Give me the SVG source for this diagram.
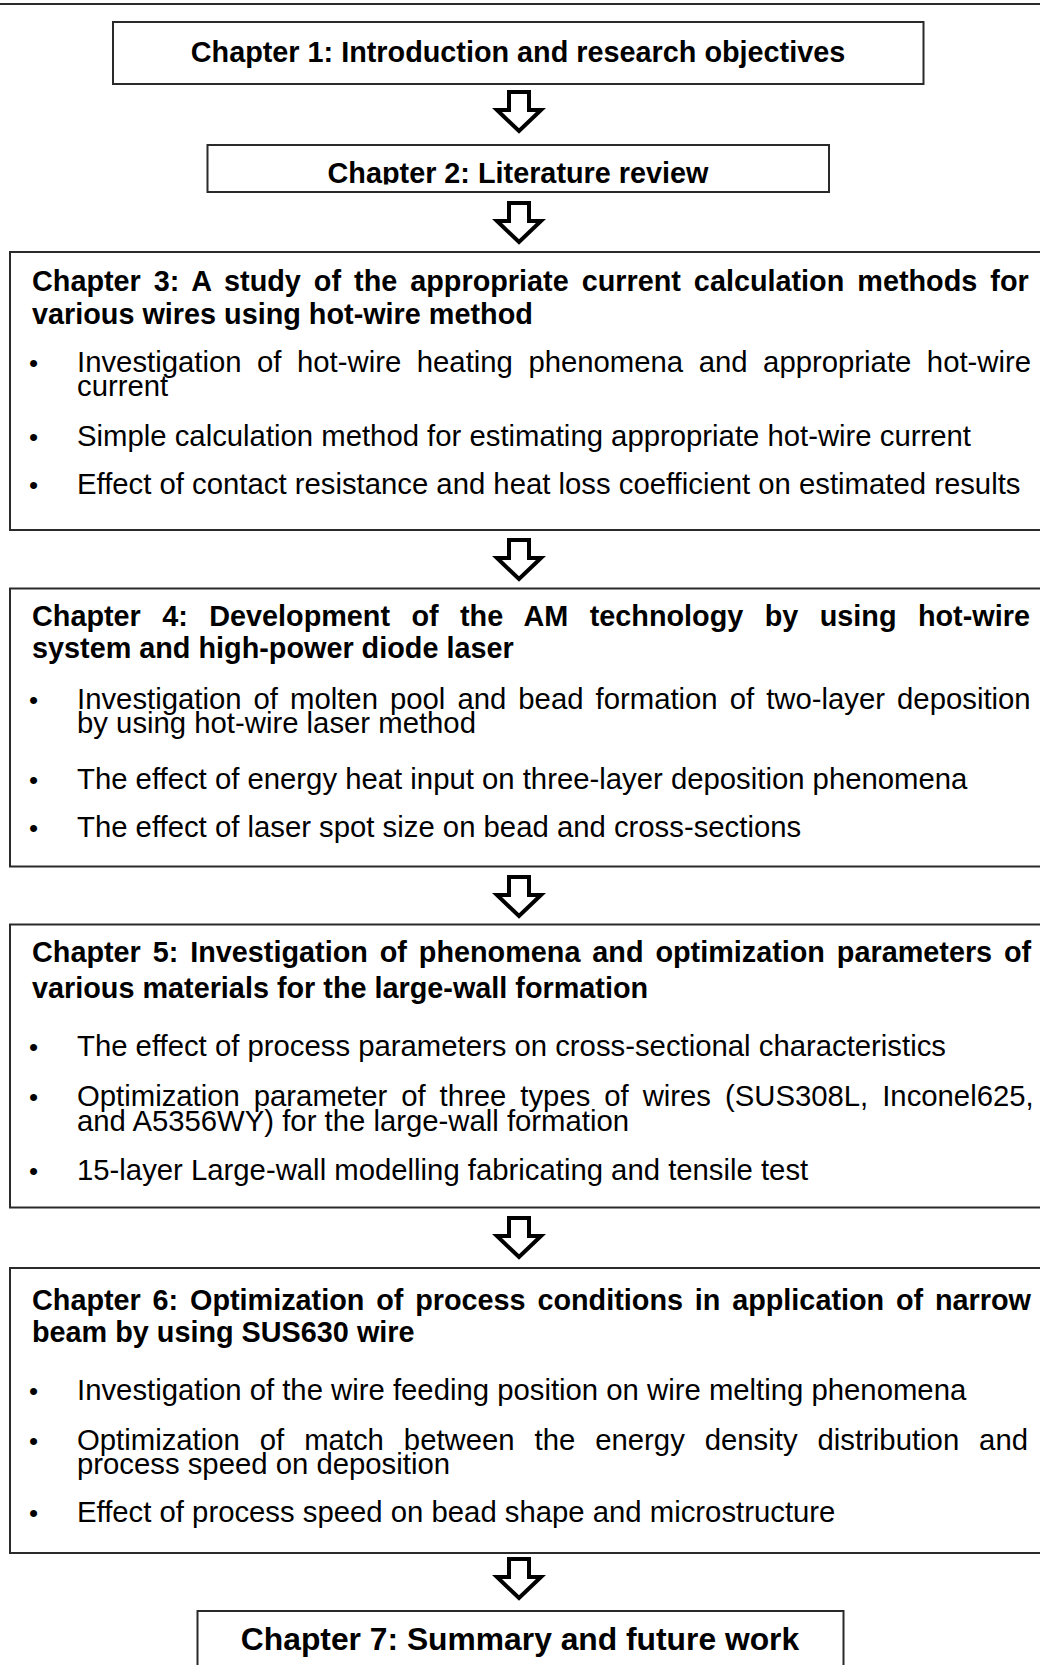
<svg xmlns="http://www.w3.org/2000/svg" width="1040" height="1665" viewBox="0 0 1040 1665">
<style>
.box{fill:#fff;stroke:#2a2a2a;stroke-width:2}
.t{font-family:"Liberation Sans",Arial,sans-serif;font-weight:bold;font-size:28.8px;fill:#000}
.b{font-family:"Liberation Sans",Arial,sans-serif;font-size:29.3px;fill:#000}
.dot{font-family:"Liberation Sans",Arial,sans-serif;font-size:26px;fill:#000}
.arrow{fill:#fff;stroke:#000;stroke-width:4;stroke-linejoin:miter}
</style>
<defs>
<path id="blockArrow" d="M-10,0 H10 V18 H22 L0,39 L-22,18 H-10 Z"/>
<clipPath id="clip2"><rect x="207" y="145" width="622" height="39.5"/></clipPath>
</defs>
<line x1="0" y1="4" x2="1040" y2="4" stroke="#2a2a2a" stroke-width="2"/>
<g id="connectors">
<use href="#blockArrow" class="arrow" transform="translate(519,92)"/>
<use href="#blockArrow" class="arrow" transform="translate(519,203)"/>
<use href="#blockArrow" class="arrow" transform="translate(519,540)"/>
<use href="#blockArrow" class="arrow" transform="translate(519,877)"/>
<use href="#blockArrow" class="arrow" transform="translate(519,1218)"/>
<use href="#blockArrow" class="arrow" transform="translate(519,1559)"/>
</g>
<g id="chapter1">
<rect class="box" x="113" y="22" width="810.5" height="62"/>
<text class="t" x="518" y="61.5" text-anchor="middle">Chapter 1: Introduction and research objectives</text>
</g>
<g id="chapter2">
<rect class="box" x="207.5" y="145" width="621.5" height="47"/>
<text class="t" x="518" y="183" text-anchor="middle" clip-path="url(#clip2)">Chapter 2: Literature review</text>
</g>
<g id="chapter3">
<rect class="box" x="10" y="252" width="1045" height="278"/>
<text class="t" x="32" y="291" word-spacing="5">Chapter 3: A study of the appropriate current calculation methods for</text>
<text class="t" x="32" y="323.5">various wires using hot-wire method</text>
<text class="dot" x="29" y="372">•</text>
<text class="b" x="77" y="372" word-spacing="7.4">Investigation of hot-wire heating phenomena and appropriate hot-wire</text>
<text class="b" x="77" y="396">current</text>
<text class="dot" x="29" y="446">•</text>
<text class="b" x="77" y="446">Simple calculation method for estimating appropriate hot-wire current</text>
<text class="dot" x="29" y="494">•</text>
<text class="b" x="77" y="494">Effect of contact resistance and heat loss coefficient on estimated results</text>
</g>
<g id="chapter4">
<rect class="box" x="10" y="588.5" width="1045" height="278"/>
<text class="t" x="32" y="626" word-spacing="13.4">Chapter 4: Development of the AM technology by using hot-wire</text>
<text class="t" x="32" y="658">system and high-power diode laser</text>
<text class="dot" x="29" y="709">•</text>
<text class="b" x="77" y="709" word-spacing="3.9">Investigation of molten pool and bead formation of two-layer deposition</text>
<text class="b" x="77" y="733">by using hot-wire laser method</text>
<text class="dot" x="29" y="788.5">•</text>
<text class="b" x="77" y="788.5">The effect of energy heat input on three-layer deposition phenomena</text>
<text class="dot" x="29" y="836.5">•</text>
<text class="b" x="77" y="836.5">The effect of laser spot size on bead and cross-sections</text>
</g>
<g id="chapter5">
<rect class="box" x="10" y="924.5" width="1045" height="283"/>
<text class="t" x="32" y="962" word-spacing="3.9">Chapter 5: Investigation of phenomena and optimization parameters of</text>
<text class="t" x="32" y="998">various materials for the large-wall formation</text>
<text class="dot" x="29" y="1056">•</text>
<text class="b" x="77" y="1056">The effect of process parameters on cross-sectional characteristics</text>
<text class="dot" x="29" y="1106">•</text>
<text class="b" x="77" y="1106" word-spacing="5.8">Optimization parameter of three types of wires (SUS308L, Inconel625,</text>
<text class="b" x="77" y="1130.5">and A5356WY) for the large-wall formation</text>
<text class="dot" x="29" y="1179.5">•</text>
<text class="b" x="77" y="1179.5">15-layer Large-wall modelling fabricating and tensile test</text>
</g>
<g id="chapter6">
<rect class="box" x="10" y="1268" width="1045" height="285"/>
<text class="t" x="32" y="1309.5" word-spacing="3.8">Chapter 6: Optimization of process conditions in application of narrow</text>
<text class="t" x="32" y="1341.5">beam by using SUS630 wire</text>
<text class="dot" x="29" y="1399.5">•</text>
<text class="b" x="77" y="1399.5">Investigation of the wire feeding position on wire melting phenomena</text>
<text class="dot" x="29" y="1449.5">•</text>
<text class="b" x="77" y="1449.5" word-spacing="11.8">Optimization of match between the energy density distribution and</text>
<text class="b" x="77" y="1474">process speed on deposition</text>
<text class="dot" x="29" y="1521.5">•</text>
<text class="b" x="77" y="1521.5">Effect of process speed on bead shape and microstructure</text>
</g>
<g id="chapter7">
<rect class="box" x="197.5" y="1611" width="646" height="80"/>
<text class="t" x="520" y="1650" text-anchor="middle" style="font-size:31.8px">Chapter 7: Summary and future work</text>
</g>
</svg>
